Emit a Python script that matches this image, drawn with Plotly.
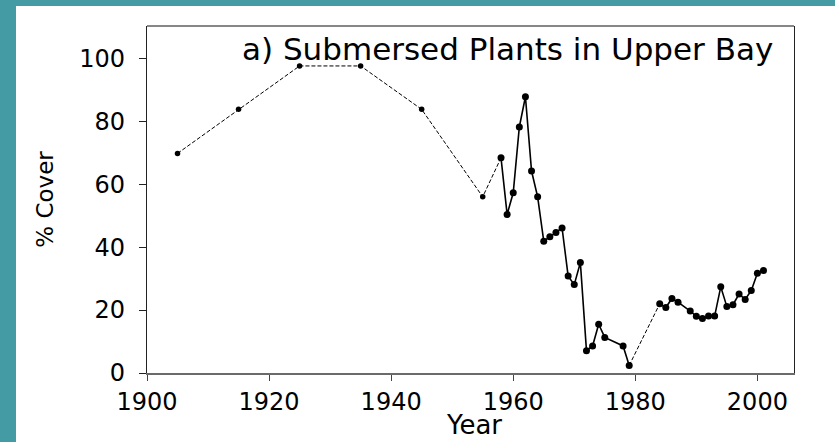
import plotly.graph_objects as go

# ---- data ----
hist_years = [1905, 1915, 1925, 1935, 1945, 1955]
hist_cover = [69.8, 83.8, 97.6, 97.6, 83.8, 56.0]

survey1_years = [1958, 1959, 1960, 1961, 1962, 1963, 1964, 1965, 1966, 1967,
                 1968, 1969, 1970, 1971, 1972, 1973, 1974, 1975, 1978, 1979]
survey1_cover = [68.4, 50.4, 57.3, 78.2, 87.8, 64.2, 56.0, 41.9, 43.3, 44.7,
                 46.1, 30.8, 28.1, 35.1, 7.1, 8.6, 15.5, 11.3, 8.6, 2.4]

survey2_years = [1984, 1985, 1986, 1987, 1989, 1990, 1991, 1992, 1993, 1994,
                 1995, 1996, 1997, 1998, 1999, 2000, 2001]
survey2_cover = [22.0, 20.8, 23.7, 22.5, 19.7, 18.0, 17.3, 18.1, 18.1, 27.4,
                 21.1, 21.7, 25.1, 23.4, 26.2, 31.7, 32.6]

x_ticks = [1900, 1920, 1940, 1960, 1980, 2000]
y_ticks = [0, 20, 40, 60, 80, 100]

title_text = "a) Submersed Plants in Upper Bay"
x_title = "Year"
y_title = "% Cover"

FONT = "DejaVu Sans"
TEAL = "#449ba4"

fig = go.Figure()

# dashed connector through the historical estimates into the first survey year
fig.add_trace(go.Scatter(
    x=hist_years + survey1_years[:1], y=hist_cover + survey1_cover[:1],
    mode="lines", line=dict(color="black", width=1, dash="4px,2px"),
    hoverinfo="skip", showlegend=False))
# dashed gap between the two survey periods
fig.add_trace(go.Scatter(
    x=survey1_years[-1:] + survey2_years[:1], y=survey1_cover[-1:] + survey2_cover[:1],
    mode="lines", line=dict(color="black", width=1, dash="4px,2px"),
    hoverinfo="skip", showlegend=False))
# historical points (small)
fig.add_trace(go.Scatter(
    x=hist_years, y=hist_cover, mode="markers",
    marker=dict(color="black", size=5.5), showlegend=False))
# survey periods (solid)
for xs, ys in [(survey1_years, survey1_cover), (survey2_years, survey2_cover)]:
    fig.add_trace(go.Scatter(
        x=xs, y=ys, mode="lines+markers",
        line=dict(color="black", width=1.6),
        marker=dict(color="black", size=7), showlegend=False))

# frame geometry (pixels) for decorations
W, H = 835, 442
L, R, T, B = 147, 794, 26, 373
pw, ph = R - L, B - T

def px_x(p):
    return (p - L) / pw

def px_y(p):
    return (B - p) / ph

shapes = [
    # teal left strip
    dict(type="rect", xref="paper", yref="paper", x0=px_x(-5), x1=px_x(16),
         y0=px_y(H + 5), y1=px_y(-5), fillcolor=TEAL, line_width=0, layer="below"),
    # teal top strip
    dict(type="rect", xref="paper", yref="paper", x0=px_x(-5), x1=px_x(W + 5),
         y0=px_y(6), y1=px_y(-5), fillcolor=TEAL, line_width=0, layer="below"),
    # top frame line
    dict(type="line", xref="paper", yref="paper", x0=0, x1=1, y0=1, y1=1,
         line=dict(color="#111", width=1.2)),
]

annotations = [
    dict(text=title_text, xref="paper", yref="paper",
         x=px_x(775), y=px_y(29), xanchor="right", yanchor="top",
         showarrow=False, font=dict(family=FONT, size=31, color="black")),
    dict(text=x_title, xref="paper", yref="paper",
         x=px_x(474), y=px_y(442), xanchor="center", yanchor="bottom",
         showarrow=False, font=dict(family=FONT, size=26, color="black")),
]

fig.update_layout(
    width=W, height=H,
    margin=dict(l=L, r=W - R, t=T, b=H - B, autoexpand=False),
    paper_bgcolor="white", plot_bgcolor="white",
    font=dict(family=FONT, color="black"),
    shapes=shapes,
    annotations=annotations,
    xaxis=dict(
        range=[1900, 2006], tickvals=x_ticks, ticks="outside", ticklen=6,
        tickcolor="#444", tickwidth=1.2, showgrid=False, zeroline=False,
        showline=True, linecolor="#6a6a6a", linewidth=2, mirror=False,
        tickfont=dict(family=FONT, size=24), ticklabelstandoff=0,
        automargin=False),
    yaxis=dict(
        range=[0, 110.3], tickvals=y_ticks, ticks="outside", ticklen=7,
        tickcolor="#222", tickwidth=1.2, showgrid=False, zeroline=False,
        showline=True, linecolor="#222", linewidth=1.2, mirror=True,
        tickfont=dict(family=FONT, size=24), ticklabelstandoff=9,
        automargin=False,
        title=dict(text=y_title, font=dict(family=FONT, size=23), standoff=19)),
)

fig.write_html("out.html", config={"displayModeBar": False},
               post_script="document.body.style.margin='0px';")
